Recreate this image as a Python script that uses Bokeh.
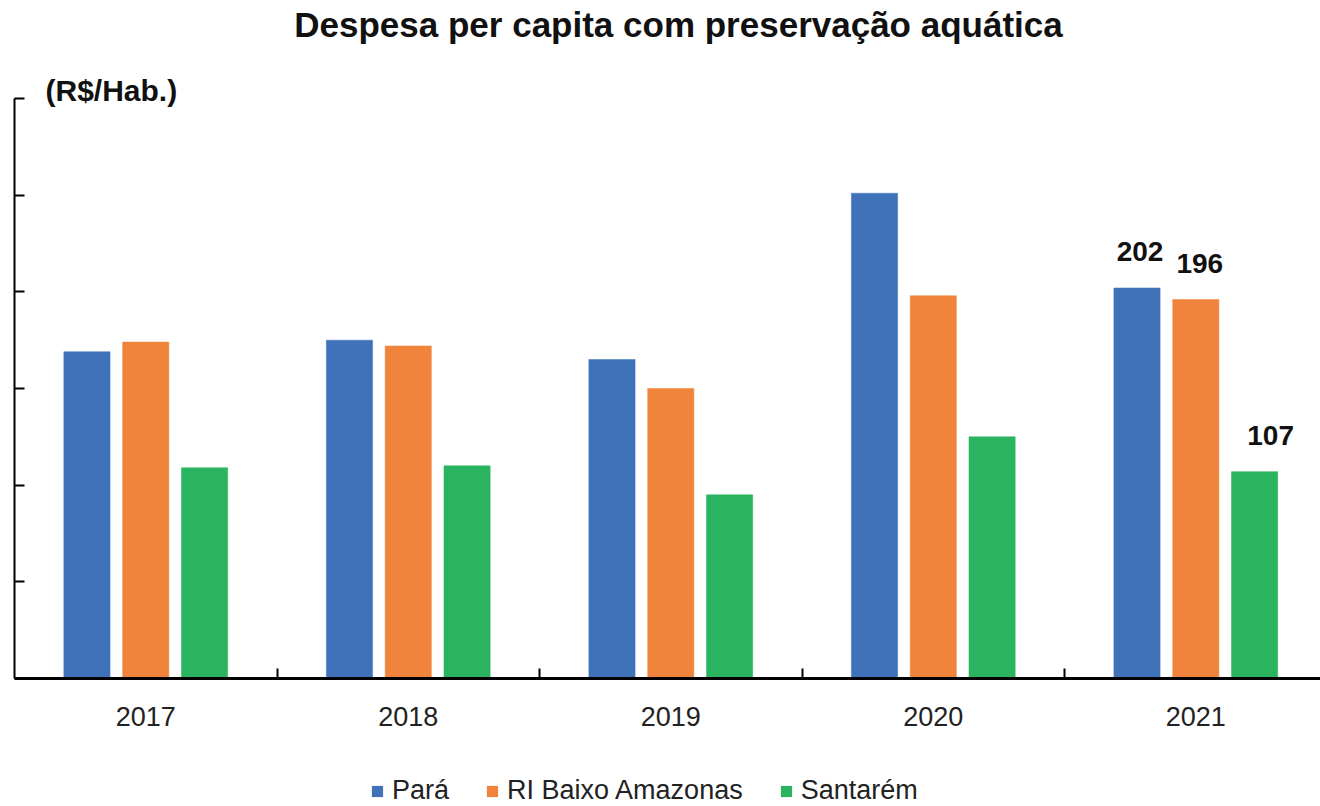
from bokeh.plotting import figure
from bokeh.models import Range1d, FixedTicker, Label, Legend, LegendItem, ColumnDataSource
from bokeh.layouts import column
from bokeh.embed import file_html
from bokeh.resources import INLINE
from bokeh.core.properties import value

# ---- data ----
title_text = "Despesa per capita com preservação aquática"
unit_label = "(R$/Hab.)"
years = ["2017", "2018", "2019", "2020", "2021"]
series_names = ["Pará", "RI Baixo Amazonas", "Santarém"]
para = [169, 175, 165, 251, 202]
ri_baixo = [174, 172, 150, 198, 196]
santarem = [109, 110, 95, 125, 107]
y_ticks = [0, 50, 100, 150, 200, 250, 300]

# ---- style ----
FONT = "Liberation Sans"
colors = ["#3F72B9", "#F0843C", "#2BB45F"]
offsets = [-0.224, 0.0, 0.224]
bar_w = 0.176
Y_AXIS_TOP = 300
Y_VIEW_TOP = 350.7   # leaves room above the axis for the title texts
X_VIEW_END = 4.975   # last category slightly cut by the right edge, as in the reference

p = figure(width=1320, height=764, output_backend="svg", toolbar_location=None,
           x_range=Range1d(0, X_VIEW_END), y_range=Range1d(0, Y_VIEW_TOP),
           min_border_left=14, min_border_right=0, min_border_top=0, min_border_bottom=86,
           title=None)
p.outline_line_color = None
p.background_fill_color = "white"
p.border_fill_color = "white"
p.xgrid.visible = False
p.ygrid.visible = False

series = [para, ri_baixo, santarem]
for k, vals in enumerate(series):
    xs = [i + 0.5 + offsets[k] for i in range(len(years))]
    src = ColumnDataSource(dict(x=xs, top=vals))
    p.vbar(x="x", top="top", width=bar_w, bottom=0, source=src,
           fill_color=colors[k], line_color=colors[k], line_width=0.5)

# data labels for the last year
last = len(years) - 1
lab_x = [last + 0.5 + offsets[k] for k in range(3)]
lab_y = [s[last] for s in series]
lab_t = [str(v) for v in lab_y]
p.text(x=lab_x, y=lab_y, text=lab_t, x_offset=[3, 4, 16], y_offset=-36,
       text_align="center", text_baseline="alphabetic",
       text_font=value(FONT), text_font_style="bold", text_font_size="28px", text_color="#111111")

# x axis
xa = p.xaxis[0]
xa.ticker = FixedTicker(ticks=[i + 0.5 for i in range(len(years))],
                        minor_ticks=[i for i in range(1, len(years))])
xa.major_label_overrides = {i + 0.5: y for i, y in enumerate(years)}
xa.major_tick_in = 0
xa.major_tick_out = 0
xa.minor_tick_in = 10
xa.minor_tick_out = 0
xa.minor_tick_line_color = "black"
xa.minor_tick_line_width = 2
xa.axis_line_color = "black"
xa.axis_line_width = 3
xa.major_label_text_font = FONT
xa.major_label_text_font_size = "27px"
xa.major_label_text_color = "#222222"
xa.major_label_standoff = 28

# y axis
ya = p.yaxis[0]
ya.ticker = FixedTicker(ticks=y_ticks, minor_ticks=[])
ya.bounds = (0, Y_AXIS_TOP)
ya.major_label_overrides = {t: "" for t in y_ticks}
ya.major_tick_in = 10
ya.major_tick_out = 0
ya.major_tick_line_color = "black"
ya.major_tick_line_width = 2
ya.minor_tick_in = 0
ya.minor_tick_out = 0
ya.axis_line_color = "black"
ya.axis_line_width = 2
ya.major_label_standoff = 0

# title and unit label (screen units, measured from the frame's bottom-left)
p.add_layout(Label(x=664, y=654, x_units="screen", y_units="screen", text=title_text,
                   text_align="center", text_baseline="alphabetic",
                   text_font=FONT, text_font_style="bold", text_font_size="35px", text_color="#111111"))
p.add_layout(Label(x=31, y=588, x_units="screen", y_units="screen", text=unit_label,
                   text_align="left", text_baseline="alphabetic",
                   text_font=FONT, text_font_style="bold", text_font_size="30px", text_color="#111111"))

# legend strip below the chart (swatch renderers sit outside the visible range)
pl = figure(width=1320, height=42, output_backend="svg", toolbar_location=None,
            x_range=Range1d(0, 1), y_range=Range1d(0, 1), min_border=0,
            x_axis_location=None, y_axis_location=None, title=None)
pl.outline_line_color = None
pl.xgrid.visible = False
pl.ygrid.visible = False
leg_renderers = [pl.vbar(x=[0.5], top=[-5], bottom=-6, width=0.1, fill_color=colors[k], line_color=None)
                 for k in range(3)]
legend = Legend(items=[LegendItem(label=series_names[k], renderers=[leg_renderers[k]]) for k in range(3)],
                orientation="horizontal", location=(356, 0),
                glyph_width=14, glyph_height=14, label_standoff=8, spacing=36,
                label_text_font=FONT, label_text_font_size="27px", label_text_color="#222222",
                padding=0, margin=0, border_line_color=None, background_fill_alpha=0)
pl.add_layout(legend, "center")

open("out.html", "w").write(file_html(column(p, pl, spacing=0), INLINE))
